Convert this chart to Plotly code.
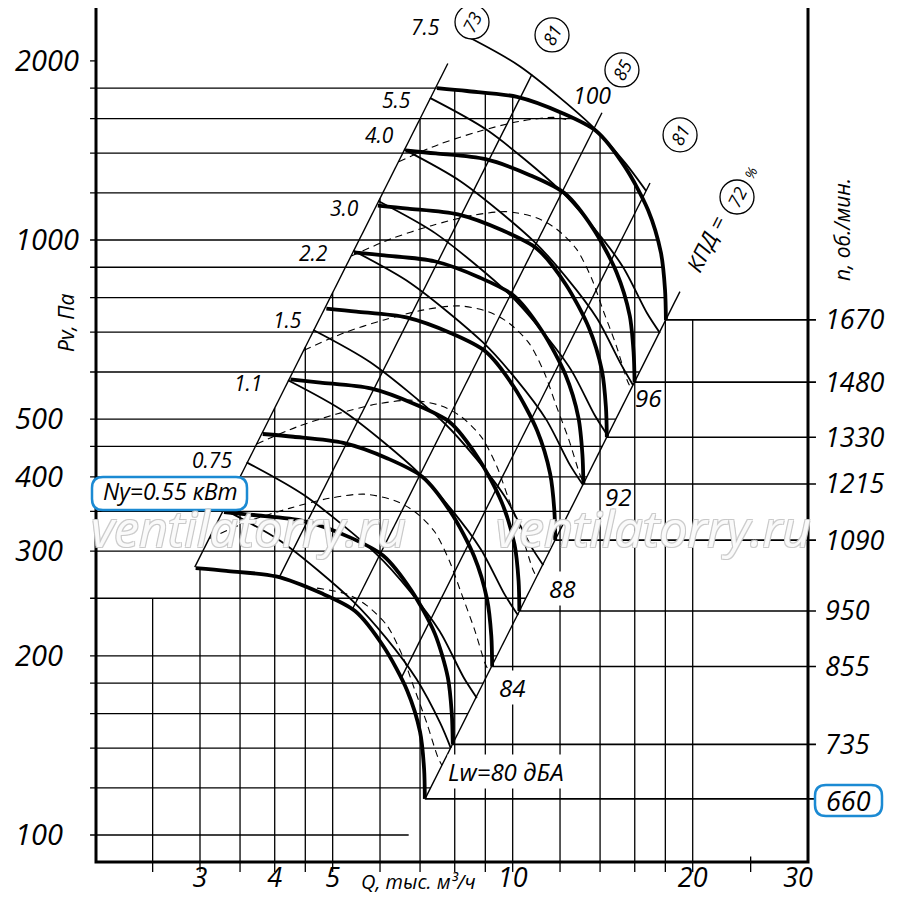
"""
Fan performance chart (Pv vs Q, log-log) with speed, power, efficiency and noise lines.
"""

import math
import plotly.graph_objects as go

FONT = "Open Sans"
BLUE = "#1b8ad3"

# Pressure curves at each fan speed: Q in thousand m3/h, Pv in Pa
T1670_Q = [7.47, 8.39, 10.17, 12.09, 13.79, 15.41, 16.84, 17.70, 17.98, 18.04]
T1670_P = [1800, 1780, 1740, 1635, 1525, 1327, 1123, 951, 824, 734]
T1480_Q = [6.62, 7.44, 9.01, 10.71, 12.22, 13.66, 14.92, 15.69, 15.93, 15.99]
T1480_P = [1414, 1398, 1367, 1284, 1198, 1042, 882, 747, 647, 577]
T1330_Q = [5.95, 6.68, 8.10, 9.63, 10.98, 12.27, 13.41, 14.10, 14.32, 14.37]
T1330_P = [1142, 1129, 1104, 1037, 967, 842, 712, 603, 523, 466]
T1215_Q = [5.43, 6.10, 7.40, 8.80, 10.03, 11.21, 12.25, 12.88, 13.08, 13.13]
T1215_P = [953, 942, 921, 865, 807, 702, 594, 503, 436, 389]
T1090_Q = [4.88, 5.48, 6.64, 7.89, 9.00, 10.06, 10.99, 11.55, 11.74, 11.78]
T1090_P = [767, 758, 741, 697, 650, 565, 478, 405, 351, 313]
T950_Q = [4.25, 4.77, 5.79, 6.88, 7.85, 8.77, 9.58, 10.07, 10.23, 10.26]
T950_P = [583, 576, 563, 529, 494, 429, 363, 308, 267, 238]
T855_Q = [3.82, 4.30, 5.21, 6.19, 7.06, 7.89, 8.62, 9.06, 9.21, 9.24]
T855_P = [472, 467, 456, 429, 400, 348, 294, 249, 216, 192]
T735_Q = [3.29, 3.69, 4.48, 5.32, 6.07, 6.78, 7.41, 7.79, 7.91, 7.94]
T735_P = [349, 345, 337, 317, 295, 257, 218, 184, 160, 142]
T660_Q = [2.95, 3.32, 4.02, 4.78, 5.45, 6.09, 6.66, 7.00, 7.11, 7.13]
T660_P = [281, 278, 272, 255, 238, 207, 175, 149, 129, 115]
RPM = [1670, 1480, 1330, 1215, 1090, 950, 855, 735, 660]

# Motor power lines (kW)
N75_Q = [8.23, 10.26, 13.58, 15.42, 16.72]
N75_P = [2221, 1961, 1554, 1348, 1209]
N55_Q = [7.27, 9.06, 12.00, 13.62, 15.29, 16.77, 17.63]
N55_P = [1733, 1530, 1213, 1052, 901, 754, 698]
N40_Q = [6.58, 8.20, 10.86, 12.33, 13.84, 15.18, 15.90]
N40_P = [1420, 1253, 994, 862, 738, 618, 570]
N30_Q = [5.96, 7.42, 9.83, 11.16, 12.52, 13.74, 14.44]
N30_P = [1163, 1027, 814, 706, 605, 506, 468]
N22_Q = [5.41, 6.74, 8.93, 10.14, 11.38, 12.48, 13.12]
N22_P = [960, 847, 672, 583, 499, 418, 387]
N15_Q = [4.64, 5.78, 7.66, 8.69, 9.76, 10.70, 11.25]
N15_P = [706, 623, 494, 429, 367, 307, 284]
N11_Q = [4.21, 5.25, 6.95, 7.89, 8.85, 9.71, 10.21]
N11_P = [581, 513, 407, 353, 302, 253, 234]
N075_Q = [3.59, 4.47, 5.93, 6.73, 7.55, 8.28, 8.71]
N075_P = [423, 373, 296, 257, 220, 184, 170]
N055_Q = [3.28, 4.09, 5.41, 6.15, 6.90, 7.57, 7.88]
N055_P = [353, 312, 247, 214, 183, 154, 140]

# Dashed lines
D1_Q = [6.448, 7.521, 8.774, 10.233, 11.710, 12.40]
D1_P = [1354, 1447, 1522, 1582, 1607, 1590]
D2_Q = [5.374, 6.268, 7.312, 8.527, 9.758, 10.954, 11.831, 12.778, 13.538, 14.178, 14.905, 15.551, 15.79]
D2_P = [940, 1005, 1057, 1099, 1116, 1090, 1044, 966, 864, 760, 664, 580, 562]
D3_Q = [4.478, 5.223, 6.093, 7.106, 8.132, 9.128, 9.859, 10.648, 11.282, 11.815, 12.421, 12.959, 13.16]
D3_P = [653, 698, 734, 763, 775, 757, 725, 671, 600, 528, 461, 403, 390]
D4_Q = [3.732, 4.353, 5.078, 5.922, 6.777, 7.607, 8.216, 8.873, 9.402, 9.846, 10.351, 10.799, 10.967]
D4_P = [454, 485, 510, 530, 538, 526, 504, 466, 417, 367, 320, 280, 271]
D5_Q = [3.110, 3.627, 4.231, 4.935, 5.647, 6.339, 6.847, 7.394, 7.835, 8.205, 8.626, 8.999, 9.139]
D5_P = [315, 337, 354, 368, 374, 365, 350, 324, 289, 255, 222, 194, 188]
D6_Q = [4.706, 5.282, 5.705, 6.162, 6.529, 6.837, 7.188, 7.499, 7.616]
D6_P = [260, 254, 243, 225, 201, 177, 154, 135, 131]

# Efficiency (КПД) lines: lower and upper ends
KPD = [73, 81, 85, 81, 72]
KPD_Q_LOW = [2.94, 4.07, 5.40, 6.50, 7.16]
KPD_P_LOW = [282, 271, 240, 183, 115.8]
KPD_Q_HIGH = [7.79, 10.77, 14.10, 16.97, 19.04]
KPD_P_HIGH = [1980, 1898, 1636, 1247, 819]

# Grid
GRID_P = [100, 120, 140, 160, 180, 200, 250, 300, 350, 400, 450, 500, 600, 700, 800, 900, 1000, 1200, 1400, 1600, 1800]
GRID_P_END = [6.70, 7.29, 7.87, 8.42, 8.93, 9.41, 10.52, 11.52, 12.45, 13.31, 14.12, 14.88, 16.30, 17.60,
              18.00, 17.81, 17.45, 16.30, 14.81, 12.63, 7.47]
GRID_Q = [2.5, 3, 3.5, 4, 4.5, 5, 6, 7, 8, 9, 10, 12, 14, 16, 18, 20]
GRID_Q_TOP = [250, 282, 400, 522, 661, 816, 1175, 1599, 1788, 1766, 1744, 1640, 1499, 1243, 794, 734]
Q_MINOR = [25]

Q_TICKS = [3, 4, 5, 10, 20, 30]
P_TICKS = [100, 200, 300, 400, 500, 1000, 2000]

# axis extents; the page body adds 8px round the figure,
# so the plot area covers screen pixels x 88..818, y 8..872
X_RANGE = [0.28983, 1.51056]
Y_RANGE = [1.93782, 3.38992]
Q_GRID_START = 1.9646
Q_FRAME_LEFT = 2.0103
Q_RPM_END = 32.15
P_BOTTOM = 86.7


def lines(xs, ys, width, dash=None, shape="linear", yaxis="y"):
    return go.Scatter(x=xs, y=ys, mode="lines", yaxis=yaxis,
                      line=dict(color="black", width=width, dash=dash, shape=shape, smoothing=0.8),
                      hoverinfo="skip", showlegend=False)


def label(q, p, text, size=21, angle=0, bg=None):
    return dict(x=math.log10(q), y=math.log10(p), xref="x", yref="y", text=text, showarrow=False,
                textangle=angle, bgcolor=bg, borderpad=0, xanchor="center", yanchor="middle",
                font=dict(family=FONT, size=size, color="black", style="italic"))


def px_paper(px, py):
    # screen pixel -> paper fraction
    return (px - 88) / 730.0, (872 - py) / 864.0


def paper_label(px, py, text, size=20, angle=0):
    x, y = px_paper(px, py)
    return dict(x=x, y=y, xref="paper", yref="paper", text=text, showarrow=False, textangle=angle,
                xanchor="center", yanchor="middle",
                font=dict(family=FONT, size=size, color="black", style="italic"))


def rounded_box(px0, py0, px1, py1, r=11):
    x0, y1 = px_paper(px0, py0)
    x1, y0 = px_paper(px1, py1)
    rx, ry = r / 730.0, r / 864.0
    return (f"M {x0+rx},{y0} L {x1-rx},{y0} Q {x1},{y0} {x1},{y0+ry} "
            f"L {x1},{y1-ry} Q {x1},{y1} {x1-rx},{y1} L {x0+rx},{y1} "
            f"Q {x0},{y1} {x0},{y1-ry} L {x0},{y0+ry} Q {x0},{y0} {x0+rx},{y0} Z")


def build_figure():
    fig = go.Figure()

    # grid: horizontal lines from the left edge, vertical lines from the bottom
    hx, hy = [], []
    for p, qe in zip(GRID_P, GRID_P_END):
        hx += [Q_GRID_START, qe, None]
        hy += [p, p, None]
    hx += [Q_GRID_START, Q_FRAME_LEFT, None]
    hy += [2000, 2000, None]
    vx, vy = [], []
    for q, pt in zip(GRID_Q, GRID_Q_TOP):
        vx += [q, q, None]
        vy += [P_BOTTOM, pt, None]
    for q in Q_MINOR:
        vx += [q, q, None]
        vy += [P_BOTTOM, 92, None]
    fig.add_trace(lines(hx, hy, 1.3))
    fig.add_trace(lines(vx, vy, 1.3))

    # efficiency lines
    for q0, p0, q1, p1 in zip(KPD_Q_LOW, KPD_P_LOW, KPD_Q_HIGH, KPD_P_HIGH):
        fig.add_trace(lines([q0, q1], [p0, p1], 1.4))

    # dashed lines
    for q, p in [(D1_Q, D1_P), (D2_Q, D2_P), (D3_Q, D3_P), (D4_Q, D4_P), (D5_Q, D5_P), (D6_Q, D6_P)]:
        fig.add_trace(lines(q, p, 1.1, dash="7px,5px", shape="spline"))

    # power lines
    power = [(N75_Q, N75_P), (N55_Q, N55_P), (N40_Q, N40_P), (N30_Q, N30_P), (N22_Q, N22_P),
             (N15_Q, N15_P), (N11_Q, N11_P), (N075_Q, N075_P), (N055_Q, N055_P)]
    for q, p in power:
        fig.add_trace(lines(q, p, 1.8, shape="spline"))

    # pressure curves and speed lines to the right scale
    thick = [(T1670_Q, T1670_P), (T1480_Q, T1480_P), (T1330_Q, T1330_P), (T1215_Q, T1215_P),
             (T1090_Q, T1090_P), (T950_Q, T950_P), (T855_Q, T855_P), (T735_Q, T735_P), (T660_Q, T660_P)]
    for q, p in thick:
        fig.add_trace(lines(q, p, 3.8, shape="spline"))
    rx, ry = [], []
    for q, p in thick:
        rx += [q[-1], Q_RPM_END, None]
        ry += [p[-1], p[-1], None]
    fig.add_trace(lines(rx, ry, 1.6, yaxis="y2"))

    # efficiency circles
    circ_q = [8.55, 11.635, 15.23, 19.05, 23.72]
    circ_p = [2325, 2211, 1931, 1502, 1181]
    fig.add_trace(go.Scatter(x=circ_q, y=circ_p, mode="markers", hoverinfo="skip", showlegend=False,
                             cliponaxis=False,
                             marker=dict(symbol="circle", size=34, color="white",
                                         line=dict(color="black", width=1.3))))

    ann = []
    for q, p, k in zip(circ_q, circ_p, KPD):
        ann.append(label(q, p, str(k), size=18, angle=-63))
    ann.append(label(20.97, 985, "КПД =", size=22, angle=-63))
    ann.append(label(24.94, 1296, "%", size=14, angle=-63))

    # power labels
    pl_pos = [(7.135, 2280), (6.405, 1719), (5.977, 1501), (5.223, 1132), (4.637, 951),
              (4.195, 734), (3.610, 575), (3.142, 427)]
    pl_txt = ["7.5", "5.5", "4.0", "3.0", "2.2", "1.5", "1.1", "0.75"]
    for (q, p), t in zip(pl_pos, pl_txt):
        ann.append(label(q, p, t, size=21))
    ann.append(label(2.673, 378.6, "Ny=0.55 кВт", size=23))

    # noise labels
    ann.append(label(9.746, 128.1, "Lw=80 дБА", size=24, bg="white"))
    ann.append(label(9.97, 176.7, "84", size=24, bg="white"))
    ann.append(label(12.09, 260, "88", size=24, bg="white"))
    ann.append(label(15.0, 370, "92", size=24))
    ann.append(label(16.84, 542.6, "96", size=24))
    ann.append(label(13.57, 1753, "100", size=23))

    # axis titles and boxed 660
    ann.append(paper_label(418, 881, "Q, тыс. м³/ч", size=20))
    ann.append(paper_label(66, 323, "Pv, Па", size=21, angle=-90))
    ann.append(paper_label(842, 230, "n, об./мин.", size=21, angle=-90))
    ann.append(paper_label(848, 800, "660", size=27))

    # watermark
    wm_font = dict(family=FONT, size=50, style="italic", color="rgba(255,255,255,0.9)",
                   shadow="1px 1px 0 #c8c8c8, -1px -1px 0 #c8c8c8, 1px -1px 0 #c8c8c8, -1px 1px 0 #c8c8c8")
    for q in (3.610, 17.17):
        ann.append(dict(x=math.log10(q), y=math.log10(328.1), xref="x", yref="y", text="ventilatorry.ru",
                        showarrow=False, font=wm_font))

    fx0, fy0 = px_paper(96, 862)
    fx1, fy1 = px_paper(808, 5)
    shapes = [
        dict(type="rect", xref="paper", yref="paper", x0=fx0, y0=fy0, x1=fx1, y1=fy1,
             line=dict(color="black", width=3), layer="below"),
        dict(type="path", xref="paper", yref="paper", path=rounded_box(92, 477, 247, 510),
             line=dict(color=BLUE, width=2.5), fillcolor="white", layer="above"),
        dict(type="path", xref="paper", yref="paper", path=rounded_box(815, 785, 882, 816),
             line=dict(color=BLUE, width=2.5), fillcolor="white", layer="above"),
    ]

    tick_font = dict(family=FONT, size=29, color="black", style="italic")
    rpm_p = [p[-1] for _, p in thick]
    rpm_txt = [str(r) if r != 660 else "" for r in RPM]
    p_txt = [str(p) if p >= 1000 else str(p) + "\u2007" for p in P_TICKS]

    fig.update_layout(
        width=884, height=886,
        margin=dict(l=80, r=74, t=0, b=22),
        plot_bgcolor="white", paper_bgcolor="white",
        showlegend=False,
        xaxis=dict(type="log", range=X_RANGE, showgrid=False, zeroline=False, showline=False,
                   tickmode="array", tickvals=Q_TICKS, ticktext=[str(q) for q in Q_TICKS],
                   ticks="", tickfont=dict(tick_font, size=27), ticklabelstandoff=-13),
        yaxis=dict(type="log", range=Y_RANGE, showgrid=False, zeroline=False, showline=False,
                   tickmode="array", tickvals=P_TICKS, ticktext=p_txt,
                   ticks="", tickfont=tick_font, ticklabelstandoff=8),
        yaxis2=dict(type="log", range=Y_RANGE, overlaying="y", side="right", showgrid=False,
                    zeroline=False, showline=False, tickmode="array", tickvals=rpm_p, ticktext=rpm_txt,
                    ticks="", tickfont=dict(tick_font, size=27), ticklabelstandoff=6),
        annotations=ann,
        shapes=shapes,
    )
    return fig


fig = build_figure()
fig.write_html("out.html")
